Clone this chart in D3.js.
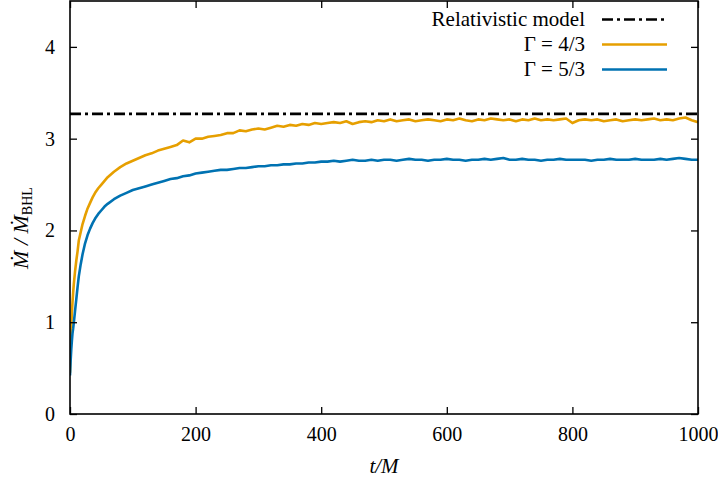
<!DOCTYPE html>
<html>
<head>
<meta charset="utf-8">
<script src="https://cdn.jsdelivr.net/npm/d3@7"></script>
<style>
  body { margin: 0; background: #fff; }
  text { font-family: "Liberation Serif", "DejaVu Serif", serif; fill: #000; }
</style>
</head>
<body>
<svg id="chart"></svg>
<script>
var svg_width = 718;
var svg_height = 489;

// DATA
var times = [0, 1, 2, 3, 4, 5, 6, 8, 10, 12, 14, 17, 20, 24, 28, 32, 36, 40, 45, 50, 55, 60,
  70, 80, 90, 100, 110, 120, 130, 140, 150, 160, 170, 180, 190,
  200, 210, 220, 230, 240, 250, 260, 270, 280, 290,
  300, 310, 320, 330, 340, 350, 360, 370, 380, 390,
  400, 410, 420, 430, 440, 450, 460, 470, 480, 490,
  500, 510, 520, 530, 540, 550, 560, 570, 580, 590,
  600, 610, 620, 630, 640, 650, 660, 670, 680, 690,
  700, 710, 720, 730, 740, 750, 760, 770, 780, 790,
  800, 810, 820, 830, 840, 850, 860, 870, 880, 890,
  900, 910, 920, 930, 940, 950, 960, 970, 980, 990,
  1000];

var gamma43 = [0.45, 0.75, 0.95, 1.10, 1.22, 1.32, 1.41, 1.55, 1.67, 1.77, 1.89, 1.98, 2.07, 2.16, 2.24, 2.30, 2.36, 2.41, 2.46, 2.50, 2.54, 2.58,
  2.64, 2.69, 2.73, 2.76, 2.79, 2.82, 2.84, 2.87, 2.89, 2.91, 2.93, 2.98, 2.96,
  3.00, 3.00, 3.02, 3.03, 3.04, 3.06, 3.06, 3.09, 3.08, 3.10,
  3.11, 3.10, 3.12, 3.14, 3.13, 3.15, 3.14, 3.16, 3.15, 3.17,
  3.16, 3.17, 3.18, 3.17, 3.19, 3.16, 3.18, 3.19, 3.18, 3.20,
  3.19, 3.21, 3.19, 3.20, 3.21, 3.19, 3.20, 3.21, 3.20, 3.19,
  3.21, 3.20, 3.22, 3.20, 3.19, 3.21, 3.20, 3.22, 3.21, 3.20,
  3.21, 3.19, 3.21, 3.20, 3.22, 3.20, 3.21, 3.20, 3.21, 3.22,
  3.17, 3.20, 3.21, 3.20, 3.21, 3.19, 3.20, 3.21, 3.19, 3.20,
  3.21, 3.20, 3.21, 3.22, 3.20, 3.21, 3.20, 3.22, 3.23, 3.20,
  3.18];

var gamma53 = [0.42, 0.58, 0.70, 0.80, 0.88, 0.93, 0.99, 1.12, 1.25, 1.38, 1.50, 1.63, 1.74, 1.86, 1.95, 2.02, 2.08, 2.13, 2.18, 2.22, 2.26, 2.29,
  2.34, 2.38, 2.41, 2.44, 2.46, 2.48, 2.50, 2.52, 2.54, 2.56, 2.57, 2.59, 2.60,
  2.62, 2.63, 2.64, 2.65, 2.66, 2.66, 2.67, 2.68, 2.68, 2.69,
  2.70, 2.70, 2.71, 2.71, 2.72, 2.72, 2.73, 2.73, 2.74, 2.74,
  2.75, 2.75, 2.76, 2.75, 2.76, 2.77, 2.76, 2.76, 2.77, 2.76,
  2.77, 2.77, 2.76, 2.77, 2.78, 2.77, 2.77, 2.76, 2.77, 2.77,
  2.78, 2.77, 2.77, 2.76, 2.77, 2.77, 2.78, 2.77, 2.78, 2.79,
  2.77, 2.77, 2.78, 2.77, 2.77, 2.76, 2.77, 2.77, 2.78, 2.77,
  2.77, 2.77, 2.77, 2.76, 2.77, 2.77, 2.78, 2.77, 2.77, 2.77,
  2.78, 2.77, 2.77, 2.77, 2.78, 2.77, 2.78, 2.79, 2.78, 2.77,
  2.77];

var relativisticModel = 3.27;

var xTicks = [0, 200, 400, 600, 800, 1000];
var yTicks = [0, 1, 2, 3, 4];

var seriesNames = ["\u0393 = 4/3", "\u0393 = 5/3"];
var seriesColors = ["#e69f00", "#0072b2"];

// LAYOUT (note: "top" is a reserved window property, so plot edges get their own names)
var plotLeft = 70, plotRight = 698, plotTop = 1, plotBottom = 414;

var xScale = d3.scaleLinear().domain([0, 1000]).range([plotLeft, plotRight]);
var yScale = d3.scaleLinear().domain([0, 4.5]).range([plotBottom, plotTop]);

var svg = d3.select("#chart")
    .attr("width", svg_width)
    .attr("height", svg_height);

svg.append("defs").append("clipPath")
    .attr("id", "plotclip")
  .append("rect")
    .attr("x", plotLeft).attr("y", plotTop)
    .attr("width", plotRight - plotLeft).attr("height", plotBottom - plotTop);

var plot = svg.append("g").attr("clip-path", "url(#plotclip)");

var line = d3.line()
    .x(function(d) { return xScale(d[0]); })
    .y(function(d) { return yScale(d[1]); });

[gamma43, gamma53].forEach(function(vals, i) {
  plot.append("path")
      .datum(times.map(function(t, j) { return [t, vals[j]]; }))
      .attr("fill", "none")
      .attr("stroke", seriesColors[i])
      .attr("stroke-width", 2.6)
      .attr("stroke-linejoin", "round")
      .attr("d", line);
});

// relativistic model level
plot.append("line")
    .attr("x1", xScale(0)).attr("x2", xScale(1000))
    .attr("y1", yScale(relativisticModel)).attr("y2", yScale(relativisticModel))
    .attr("stroke", "#000")
    .attr("stroke-width", 2.6)
    .attr("stroke-dasharray", "11,4,3,4");

// AXES (ticks inward, mirrored on all sides)
var tickLen = 7;
var xAxisB = d3.axisBottom(xScale).tickValues(xTicks).tickSize(-tickLen).tickPadding(13).tickFormat(d3.format("d"));
var xAxisT = d3.axisTop(xScale).tickValues(xTicks).tickSize(-tickLen).tickFormat("");
var yAxisL = d3.axisLeft(yScale).tickValues(yTicks).tickSize(-tickLen).tickPadding(15).tickFormat(d3.format("d"));
var yAxisR = d3.axisRight(yScale).tickValues(yTicks).tickSize(-tickLen).tickFormat("");

function styleAxis(g) {
  g.select(".domain").remove();
  g.selectAll(".tick line").attr("stroke", "#000").attr("stroke-width", 1.3);
  g.selectAll(".tick text").attr("font-size", 20).attr("font-family", "Liberation Serif");
}

svg.append("g").attr("transform", "translate(0," + plotBottom + ")").call(xAxisB).call(styleAxis);
svg.append("g").attr("transform", "translate(0," + plotTop + ")").call(xAxisT).call(styleAxis);
svg.append("g").attr("transform", "translate(" + plotLeft + ",0)").call(yAxisL).call(styleAxis);
svg.append("g").attr("transform", "translate(" + plotRight + ",0)").call(yAxisR).call(styleAxis);

svg.append("rect")
    .attr("x", plotLeft).attr("y", plotTop)
    .attr("width", plotRight - plotLeft).attr("height", plotBottom - plotTop)
    .attr("fill", "none")
    .attr("stroke", "#000")
    .attr("stroke-width", 1.6);

// AXIS LABELS
svg.append("text")
    .attr("x", (plotLeft + plotRight) / 2)
    .attr("y", 473)
    .attr("font-size", 21)
    .attr("font-style", "italic")
    .style("text-anchor", "middle")
    .text("t/M");

var yLabel = svg.append("text")
    .attr("transform", "translate(28," + 228 + ") rotate(-90)")
    .attr("font-size", 22)
    .style("text-anchor", "middle");
yLabel.append("tspan").attr("font-style", "italic").text("\u1E40 / \u1E40");
yLabel.append("tspan").attr("font-size", 14).attr("dy", 4).text("BHL");

// LEGEND
var legendLabels = ["Relativistic model"].concat(seriesNames);
var legendStyles = [
  { color: "#000", dash: "11,4,3,4" },
  { color: seriesColors[0], dash: null },
  { color: seriesColors[1], dash: null }
];
var legend = svg.append("g");
legendLabels.forEach(function(label, i) {
  var base = 26 + i * 25;
  legend.append("text")
      .attr("x", 585)
      .attr("y", base)
      .attr("font-size", 21)
      .style("text-anchor", "end")
      .text(label);
  legend.append("line")
      .attr("x1", 602).attr("x2", 667)
      .attr("y1", base - 6.5).attr("y2", base - 6.5)
      .attr("stroke", legendStyles[i].color)
      .attr("stroke-width", 2.6)
      .attr("stroke-dasharray", legendStyles[i].dash);
});
</script>
</body>
</html>
